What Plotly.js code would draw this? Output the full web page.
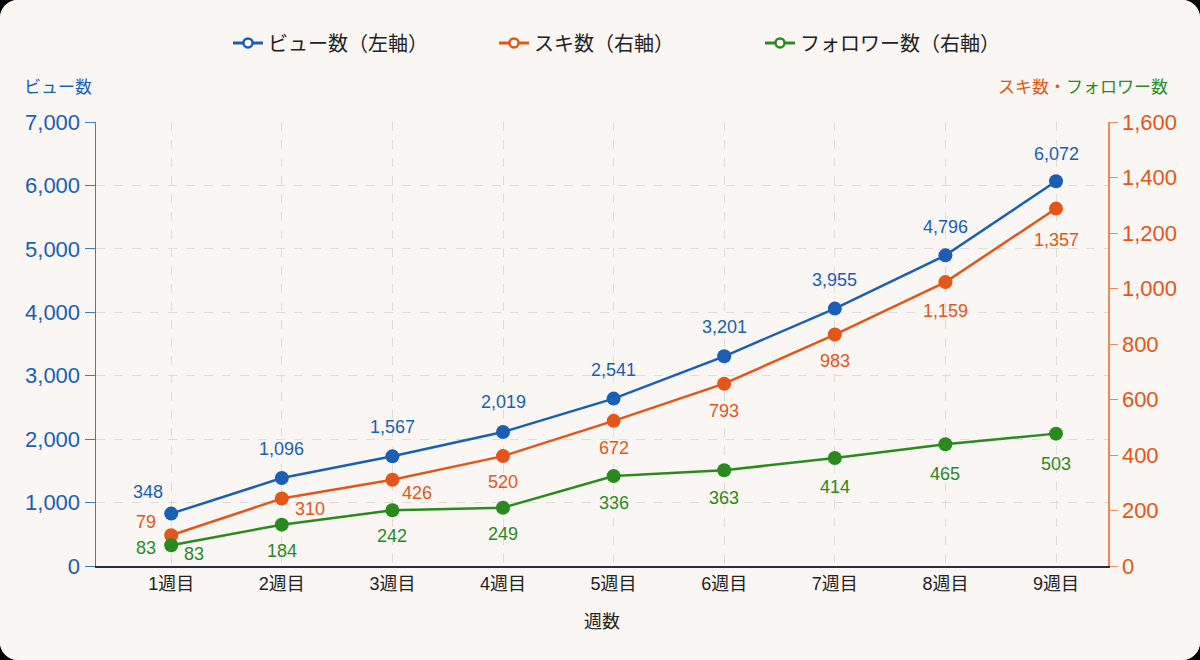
<!DOCTYPE html>
<html>
<head>
<meta charset="utf-8">
<script src="https://cdn.plot.ly/plotly-3.0.1.min.js"></script>
<style>
  html, body { margin: 0; padding: 0; background: #000; }
  #card { width: 1200px; height: 660px; border-radius: 18px; overflow: hidden; background: #f9f6f3; }
  #plot { width: 1200px; height: 660px; }
</style>
</head>
<body>
<div id="card"><div id="plot"></div></div>
<script>
// categories
var weeks = ['1週目', '2週目', '3週目', '4週目', '5週目', '6週目', '7週目', '8週目', '9週目']

// plotted values
var views = [826, 1387, 1729, 2113, 2639, 3306, 4058, 4898, 6065]
var likes = [111, 243, 311, 396, 523, 657, 834, 1023, 1288]
var follows = [75, 149, 201, 210, 324, 345, 389, 439, 477]

// data labels as printed on the chart
var viewLabels = ['348', '1,096', '1,567', '2,019', '2,541', '3,201', '3,955', '4,796', '6,072']
var likeLabels = ['79', '310', '426', '520', '672', '793', '983', '1,159', '1,357']
var followLabels = ['83', '184', '242', '249', '336', '363', '414', '465', '503']

var blue = '#1a5fb4'
var orange = '#e3561a'
var green = '#2b8a1f'
var font = '"Liberation Sans", "Noto Sans CJK JP", sans-serif'

// label offsets in px (x, y up)
var viewDx = [-23, 0, 0, 0, 0, 0, 0, 0, 0]
var viewDy = [22, 29, 29, 30, 29, 29, 29, 28, 27]
var likeDx = [-25, 28, 25, 0, 0, 0, 0, 0, 0]
var likeDy = [13, -10, -13, -26, -27, -27, -26, -29, -31]
var followDx = [23, 0, 0, 0, 0, 0, 0, 0, 0]
var followDy = [-9, -26, -26, -26, -27, -28, -29, -30, -30]

function series(name, y, color, axis) {
  return {
    x: weeks, y: y, yaxis: axis, name: name, type: 'scatter', mode: 'lines+markers',
    line: {color: color, width: 2.5},
    marker: {color: color, size: 14},
    showlegend: false, hoverinfo: 'skip'
  }
}

function legendItem(name, color) {
  return {
    x: [null], y: [null], name: name, type: 'scatter', mode: 'lines+markers',
    line: {color: color, width: 3},
    marker: {color: '#ffffff', size: 9, line: {color: color, width: 2.5}}
  }
}

var data = [
  series('ビュー数（左軸）', views, blue, 'y'),
  series('スキ数（右軸）', likes, orange, 'y2'),
  series('フォロワー数（右軸）', follows, green, 'y2'),
  legendItem('ビュー数（左軸）', blue),
  legendItem('スキ数（右軸）', orange),
  legendItem('フォロワー数（右軸）', green)
]

var annotations = []
function addLabels(vals, labels, dx, dy, color, yref) {
  for (var i = 0; i < vals.length; i++) {
    annotations.push({
      x: weeks[i], y: vals[i], yref: yref, text: labels[i], showarrow: false,
      xshift: dx[i], yshift: dy[i], font: {family: font, size: 18, color: color}
    })
  }
}
addLabels(views, viewLabels, viewDx, viewDy, blue, 'y')
addLabels(likes, likeLabels, likeDx, likeDy, orange, 'y2')
addLabels(follows, followLabels, followDx, followDy, green, 'y2')
// the first week shows the follower label twice
annotations.push({
  x: weeks[0], y: follows[0], yref: 'y2', text: followLabels[0], showarrow: false,
  xshift: -25, yshift: -3, font: {family: font, size: 18, color: green}
})

// axis titles sit above the axes
annotations.push({
  xref: 'paper', yref: 'paper', x: -0.073, y: 1.078, xanchor: 'left', yanchor: 'middle',
  text: 'ビュー数', showarrow: false, font: {family: font, size: 17, color: blue}
})
annotations.push({
  xref: 'paper', yref: 'paper', x: 1.061, y: 1.078, xanchor: 'right', yanchor: 'middle',
  text: '<span style="color:' + orange + '">スキ数・</span><span style="color:' + green + '">フォロワー数</span>',
  showarrow: false, font: {family: font, size: 17, color: orange}
})

var layout = {
  width: 1200, height: 660,
  paper_bgcolor: '#f9f6f3', plot_bgcolor: '#f9f6f3',
  margin: {l: 96, r: 92, t: 122, b: 94},
  font: {family: font, color: '#222'},
  showlegend: true,
  legend: {
    orientation: 'h', xref: 'container', yref: 'container', x: 0.5225, y: 0.935,
    xanchor: 'center', yanchor: 'middle', font: {family: font, size: 20, color: '#222'},
    entrywidth: 221, bgcolor: 'rgba(0,0,0,0)'
  },
  xaxis: {
    type: 'category', range: [-0.68, 8.47],
    showgrid: true, gridcolor: '#e0dcd8', griddash: 'dash', gridwidth: 1,
    showline: true, linecolor: '#2a2f3a', linewidth: 2,
    ticks: '', tickfont: {family: font, size: 18, color: '#222'},
    title: {text: '週数', font: {family: font, size: 18, color: '#222'}, standoff: 23},
    zeroline: false, fixedrange: true
  },
  yaxis: {
    range: [0, 7000], dtick: 1000, tickformat: ',d',
    showgrid: true, gridcolor: '#e0dcd8', griddash: 'dash', gridwidth: 1,
    showline: true, linecolor: '#3f7cc8', linewidth: 1.5,
    ticks: 'outside', ticklen: 10, tickcolor: '#3f7cc8',
    tickfont: {family: font, size: 22, color: blue},
    zeroline: false
  },
  yaxis2: {
    overlaying: 'y', side: 'right',
    range: [0, 1600], dtick: 200, tickformat: ',d',
    showgrid: false,
    showline: true, linecolor: '#e98a5c', linewidth: 1.5,
    ticks: 'outside', ticklen: 8, tickcolor: '#e98a5c',
    tickfont: {family: font, size: 22, color: orange},
    zeroline: false
  },
  annotations: annotations
}

Plotly.newPlot('plot', data, layout, {displayModeBar: false, staticPlot: true})
</script>
</body>
</html>
